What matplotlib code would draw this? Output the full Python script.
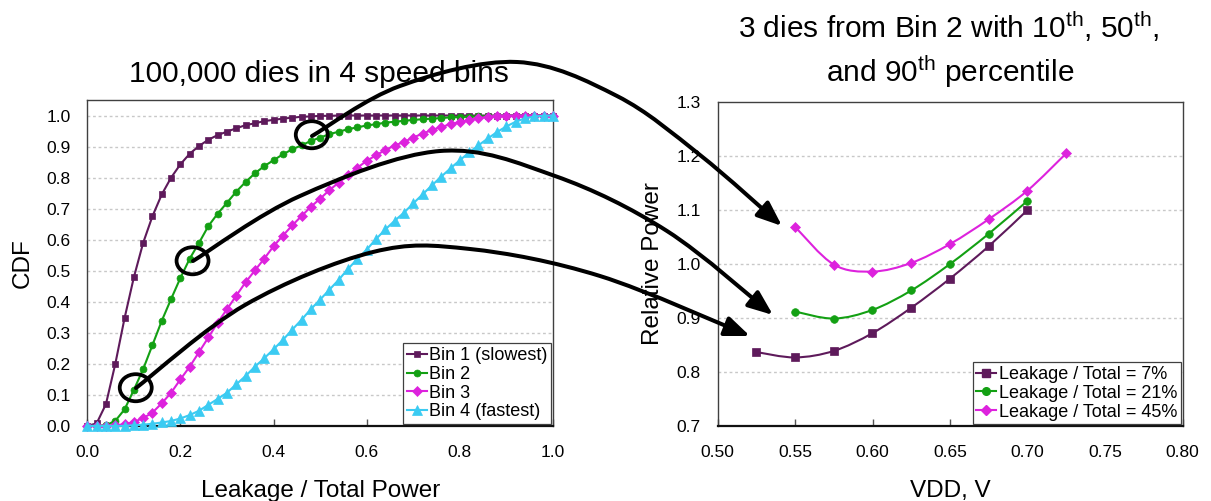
import numpy as np
import matplotlib
matplotlib.use("Agg")
import matplotlib.pyplot as plt
from matplotlib.path import Path
from matplotlib.patches import FancyArrowPatch, PathPatch, Ellipse
from matplotlib.lines import Line2D

plt.rcParams["font.family"] = ["Liberation Sans", "DejaVu Sans"]
plt.rcParams["mathtext.fontset"] = "custom"
plt.rcParams["mathtext.rm"] = "Liberation Sans"
plt.rcParams["mathtext.it"] = "Liberation Sans:italic"
plt.rcParams["mathtext.bf"] = "Liberation Sans:bold"

# ---------------- data: leakage-fraction CDF per speed bin ----------------
leak_frac = [0.00, 0.02, 0.04, 0.06, 0.08, 0.10, 0.12, 0.14, 0.16, 0.18,
             0.20, 0.22, 0.24, 0.26, 0.28, 0.30, 0.32, 0.34, 0.36, 0.38,
             0.40, 0.42, 0.44, 0.46, 0.48, 0.50, 0.52, 0.54, 0.56, 0.58,
             0.60, 0.62, 0.64, 0.66, 0.68, 0.70, 0.72, 0.74, 0.76, 0.78,
             0.80, 0.82, 0.84, 0.86, 0.88, 0.90, 0.92, 0.94, 0.96, 0.98,
             1.00]

cdf_bin1 = [0.000, 0.008, 0.070, 0.199, 0.347, 0.479, 0.590, 0.676, 0.746, 0.800,
            0.843, 0.877, 0.902, 0.922, 0.937, 0.948, 0.959, 0.969, 0.975, 0.982,
            0.986, 0.990, 0.993, 0.996, 0.997, 0.999, 0.999, 1.000, 1.000, 1.000,
            1.000, 1.000, 1.000, 1.000, 1.000, 1.000, 1.000, 1.000, 1.000, 1.000,
            1.000, 1.000, 1.000, 1.000, 1.000, 1.000, 1.000, 1.000, 1.000, 1.000,
            1.000]

cdf_bin2 = [0.000, 0.000, 0.002, 0.016, 0.053, 0.116, 0.183, 0.261, 0.339, 0.409,
            0.477, 0.539, 0.590, 0.644, 0.684, 0.719, 0.755, 0.786, 0.814, 0.837,
            0.856, 0.875, 0.891, 0.904, 0.918, 0.929, 0.940, 0.948, 0.956, 0.962,
            0.968, 0.972, 0.977, 0.980, 0.983, 0.986, 0.988, 0.990, 0.992, 0.994,
            0.995, 0.996, 0.997, 0.998, 0.999, 1.000, 1.000, 1.000, 1.000, 1.000,
            1.000]

cdf_bin3 = [0.000, 0.000, 0.000, 0.002, 0.005, 0.013, 0.025, 0.043, 0.073, 0.107,
            0.150, 0.191, 0.238, 0.285, 0.333, 0.376, 0.420, 0.463, 0.501, 0.539,
            0.579, 0.613, 0.646, 0.676, 0.706, 0.732, 0.760, 0.784, 0.807, 0.832,
            0.854, 0.872, 0.889, 0.903, 0.915, 0.929, 0.942, 0.953, 0.963, 0.972,
            0.979, 0.986, 0.991, 0.996, 0.999, 1.000, 1.000, 1.000, 1.000, 1.000,
            1.000]

cdf_bin4 = [0.000, 0.000, 0.000, 0.000, 0.000, 0.002, 0.004, 0.007, 0.011, 0.016,
            0.024, 0.035, 0.049, 0.068, 0.087, 0.107, 0.134, 0.161, 0.191, 0.218,
            0.247, 0.277, 0.310, 0.342, 0.376, 0.407, 0.439, 0.471, 0.506, 0.538,
            0.568, 0.602, 0.633, 0.661, 0.687, 0.717, 0.746, 0.775, 0.803, 0.830,
            0.856, 0.881, 0.904, 0.926, 0.947, 0.965, 0.980, 0.991, 0.997, 0.999,
            1.000]

bin_labels = ["Bin 1 (slowest)", "Bin 2", "Bin 3", "Bin 4 (fastest)"]

# 10th / 50th / 90th percentile dies of Bin 2 (circled)
pick_x = [0.104, 0.226, 0.482]
pick_y = [0.123, 0.532, 0.938]

# ---------------- data: relative power vs supply voltage ----------------
vdd_7 = [0.525, 0.55, 0.575, 0.60, 0.625, 0.65, 0.675, 0.70]
pow_7 = [0.837, 0.827, 0.839, 0.872, 0.919, 0.973, 1.033, 1.100]
vdd_21 = [0.55, 0.575, 0.60, 0.625, 0.65, 0.675, 0.70]
pow_21 = [0.912, 0.899, 0.915, 0.951, 1.000, 1.056, 1.117]
vdd_45 = [0.55, 0.575, 0.60, 0.625, 0.65, 0.675, 0.70, 0.725]
pow_45 = [1.069, 0.999, 0.986, 1.002, 1.037, 1.083, 1.136, 1.205]
power_labels = ["Leakage / Total = 7%", "Leakage / Total = 21%", "Leakage / Total = 45%"]

# ---------------- styling ----------------
C_PURPLE = "#5E1A5B"
C_GREEN = "#13A013"
C_MAGENTA = "#DD22DD"
C_CYAN = "#3BCBF2"
GRID = dict(color="#C8C8C8", linestyle=(0, (2, 2)), linewidth=1.0)
TICK_FS = 12.5
LABEL_FS = 17.5
TITLE_FS = 21.5

W, H = 1211, 501
fig = plt.figure(figsize=(W / 100, H / 100), dpi=100)
fig.patch.set_facecolor("white")


def px(x, y):
    """Figure pixel position (origin top-left) -> figure fraction."""
    return (x / W, 1 - y / H)


def smooth_path(xs, ys):
    """Cubic Bezier curve through the given points (Catmull-Rom tangents)."""
    p = np.column_stack([xs, ys]).astype(float)
    n = len(p)
    verts = [p[0]]
    codes = [Path.MOVETO]
    for i in range(n - 1):
        prev = p[i - 1] if i > 0 else p[i]
        nxt = p[i + 2] if i + 2 < n else p[i + 1]
        verts += [p[i] + (p[i + 1] - prev) / 6.0,
                  p[i + 1] - (nxt - p[i]) / 6.0,
                  p[i + 1]]
        codes += [Path.CURVE4] * 3
    return Path(np.array(verts), codes)


def style_axes(ax):
    for side in ["left", "bottom", "top", "right"]:
        ax.spines[side].set_color("#404040")
        ax.spines[side].set_linewidth(1.0)
    ax.spines["bottom"].set_color("#111111")
    ax.spines["bottom"].set_linewidth(1.6)
    ax.tick_params(axis="x", direction="in", length=5, width=1, color="#555555",
                   pad=14, labelsize=TICK_FS)
    ax.tick_params(axis="y", length=0, pad=12, labelsize=TICK_FS)
    ax.set_axisbelow(True)


# ---------------- left: CDF ----------------
ax1 = fig.add_axes([87.3 / W, 1 - 425.9 / H, 465.7 / W, 325.9 / H])
style_axes(ax1)
ax1.set_xlim(0, 1.0)
ax1.set_ylim(0, 1.05)
ax1.set_xticks(np.arange(0, 1.01, 0.2))
ax1.set_yticks(np.arange(0, 1.01, 0.1))
ax1.xaxis.set_major_formatter(matplotlib.ticker.FormatStrFormatter("%.1f"))
ax1.yaxis.set_major_formatter(matplotlib.ticker.FormatStrFormatter("%.1f"))
for yv in np.arange(0.1, 1.01, 0.1):
    ax1.axhline(yv, zorder=0, **GRID)

series_left = [
    (cdf_bin1, C_PURPLE, "s", 5.0),
    (cdf_bin2, C_GREEN, "o", 5.0),
    (cdf_bin3, C_MAGENTA, "D", 5.0),
    (cdf_bin4, C_CYAN, "^", 6.5),
]
handles1 = []
for (vals, col, mk, ms), lab in zip(series_left, bin_labels):
    ln, = ax1.plot(leak_frac, vals, color=col, lw=1.5, marker=mk, ms=ms,
                   mfc=col, mec=col, mew=0.5, clip_on=False, zorder=3, label=lab)
    handles1.append(ln)

for cx, cy in zip(pick_x, pick_y):
    ax1.add_patch(Ellipse((cx, cy), width=32 / 465.7, height=27 / 309.5,
                          fill=False, ec="black", lw=2.7, zorder=5, clip_on=False))

leg1 = ax1.legend(handles=handles1, loc="lower right", fontsize=13,
                  frameon=True, fancybox=False, framealpha=1, edgecolor="#404040",
                  borderpad=0.2, labelspacing=0.1, handlelength=1.1,
                  handletextpad=0.15, borderaxespad=0.1)
leg1.get_frame().set_linewidth(0.9)
leg1.set_zorder(6)

ax1.set_xlabel("Leakage / Total Power", fontsize=LABEL_FS, labelpad=14)
ax1.set_ylabel("CDF", fontsize=LABEL_FS, labelpad=9)

# ---------------- right: relative power vs VDD ----------------
ax2 = fig.add_axes([717.5 / W, 1 - 426 / H, 465 / W, 324 / H])
style_axes(ax2)
ax2.set_xlim(0.5, 0.8)
ax2.set_ylim(0.7, 1.3)
ax2.set_xticks(np.arange(0.5, 0.801, 0.05))
ax2.set_yticks(np.arange(0.7, 1.301, 0.1))
ax2.xaxis.set_major_formatter(matplotlib.ticker.FormatStrFormatter("%.2f"))
ax2.yaxis.set_major_formatter(matplotlib.ticker.FormatStrFormatter("%.1f"))
for yv in np.arange(0.8, 1.21, 0.1):
    ax2.axhline(yv, zorder=0, **GRID)

series_right = [
    (vdd_7, pow_7, C_PURPLE, "s", 5.5),
    (vdd_21, pow_21, C_GREEN, "o", 5.5),
    (vdd_45, pow_45, C_MAGENTA, "D", 5.5),
]
handles2 = []
for (xs, ys, col, mk, ms), lab in zip(series_right, power_labels):
    ax2.add_patch(PathPatch(smooth_path(xs, ys), fill=False, ec=col, lw=1.5,
                            zorder=2, transform=ax2.transData))
    ax2.plot(xs, ys, linestyle="none", marker=mk, ms=ms, mfc=col, mec=col,
             mew=0.5, zorder=3)
    handles2.append(Line2D([], [], color=col, lw=1.5, marker=mk, ms=ms,
                           mfc=col, mec=col, label=lab))

leg2 = ax2.legend(handles=handles2, loc="lower right", fontsize=13,
                  frameon=True, fancybox=False, framealpha=1, edgecolor="#404040",
                  borderpad=0.2, labelspacing=0.1, handlelength=1.1,
                  handletextpad=0.15, borderaxespad=0.1)
leg2.get_frame().set_linewidth(0.9)

ax2.set_xlabel("VDD, V", fontsize=LABEL_FS, labelpad=14)
ax2.set_ylabel("Relative Power", fontsize=LABEL_FS, labelpad=9)

# ---------------- titles ----------------
fig.text(*px(318.5, 82), "100,000 dies in 4 speed bins", fontsize=TITLE_FS,
         ha="center", va="baseline")
fig.text(*px(948.5, 38),
         r"3 dies from Bin 2 with 10$^{\mathrm{th}}$, 50$^{\mathrm{th}}$,",
         fontsize=TITLE_FS, ha="center", va="baseline")
fig.text(*px(950, 82), r"and 90$^{\mathrm{th}}$ percentile",
         fontsize=TITLE_FS, ha="center", va="baseline")

# ---------------- arrows from circled dies to their power curves ----------------
arrow_routes = [
    [(312, 136), (400, 86), (517, 62), (617, 96), (700, 155), (782, 226)],
    [(193, 261), (300, 196), (440, 151), (555, 176), (667, 231), (773, 315)],
    [(136, 388), (245, 305), (373, 252), (470, 249), (600, 276), (750, 336)],
]
for route in arrow_routes:
    pts = np.array([px(x, y) for x, y in route])
    path = smooth_path(pts[:, 0], pts[:, 1])
    arr = FancyArrowPatch(path=path, arrowstyle="-|>,head_length=1.5,head_width=0.6",
                          mutation_scale=10, lw=2.9, color="black",
                          transform=fig.transFigure, zorder=10)
    fig.add_artist(arr)

fig.savefig("out.png", dpi=100, facecolor="white")
